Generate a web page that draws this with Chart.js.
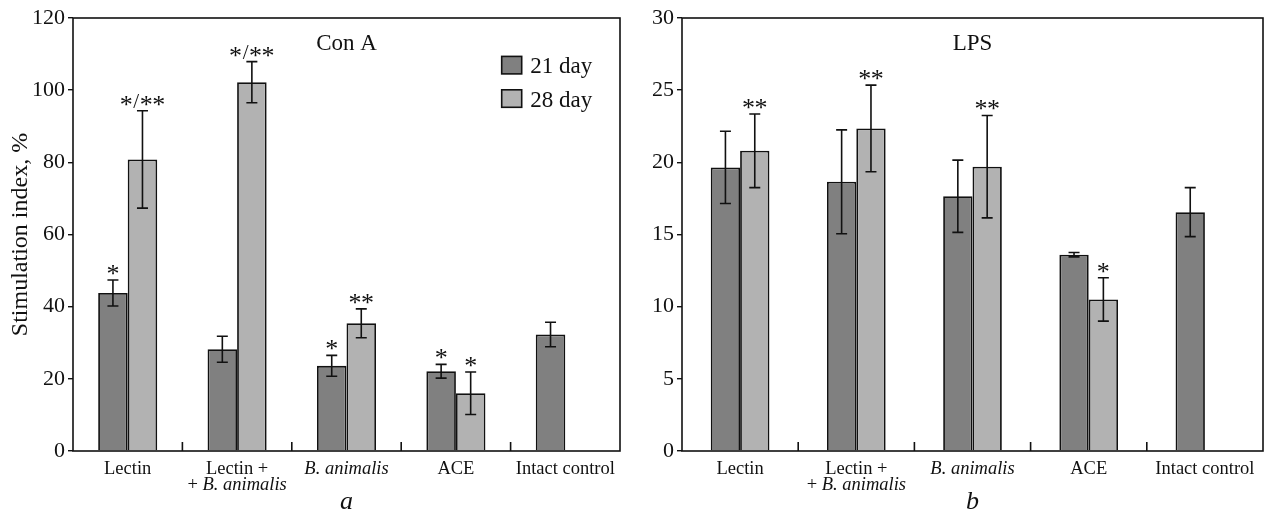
<!DOCTYPE html>
<html>
<head>
<meta charset="utf-8">
<script src="https://cdn.jsdelivr.net/npm/chart.js@4.4.1/dist/chart.umd.min.js"></script>
<style>
  html, body { margin: 0; padding: 0; background: #fff; }
  #wrap { position: relative; width: 1264px; height: 514px; overflow: hidden; }
  .panel { position: absolute; top: 0; width: 632px; height: 514px; }
  #left  { left: 0; }
  #right { left: 632px; }
</style>
</head>
<body>
<div id="wrap">
  <div class="panel" id="left"><canvas id="conA" width="632" height="514"></canvas></div>
  <div class="panel" id="right"><canvas id="lps" width="632" height="514"></canvas></div>
</div>
<script>
/* two panels: Con A (a) and LPS (b) stimulation index */

const categories  = [['Lectin'], ['Lectin +', '+ B. animalis'], ['B. animalis'], ['ACE'], ['Intact control']];
const seriesNames = ['21 day', '28 day'];

// panel a — Con A
const conA21      = [43.8, 28.2, 23.6, 22.1, 32.3];
const conA21Err   = [3.6, 3.6, 2.9, 1.9, 3.4];
const conA28      = [80.8, 102.2, 35.4, 16.0, null];
const conA28Err   = [13.5, 5.7, 4.0, 5.9, null];
const conA21Marks = ['*', '', '*', '*', ''];
const conA28Marks = ['*/**', '*/**', '**', '*', ''];
const conATicks   = [0, 20, 40, 60, 80, 100, 120];

// panel b — LPS
const lps21       = [19.65, 18.65, 17.65, 13.6, 16.55];
const lps21Err    = [2.5, 3.6, 2.5, 0.15, 1.7];
const lps28       = [20.8, 22.35, 19.7, 10.5, null];
const lps28Err    = [2.55, 3.0, 3.55, 1.5, null];
const lps21Marks  = ['', '', '', '', ''];
const lps28Marks  = ['**', '**', '**', '*', ''];
const lpsTicks    = [0, 5, 10, 15, 20, 25, 30];

const SERIF = '"Liberation Serif", "Times New Roman", serif';
const INK   = '#111';
const DARK  = '#808080';
const LIGHT = '#b2b2b2';

// draw text, putting "B. animalis" in italic
function drawMixed(ctx, text, cx, y, size) {
  const parts = text.split(/(B\. animalis)/).filter(s => s.length);
  const fontOf = p => (p === 'B. animalis' ? 'italic ' : '') + size + 'px ' + SERIF;
  let total = 0;
  parts.forEach(p => { ctx.font = fontOf(p); total += ctx.measureText(p).width; });
  let x = cx - total / 2;
  ctx.textAlign = 'left';
  parts.forEach(p => {
    ctx.font = fontOf(p);
    ctx.fillText(p, x, y);
    x += ctx.measureText(p).width;
  });
}

// significance marks: stars are set bigger than the slash, as in the print
function drawMark(ctx, mark, cx, yTop) {
  const adv = ch => (ch === '*' ? 12.5 : 7.5);
  let total = 0;
  for (const ch of mark) total += adv(ch);
  let x = cx - total / 2;
  ctx.textAlign = 'center';
  ctx.textBaseline = 'alphabetic';
  for (const ch of mark) {
    if (ch === '*') {
      ctx.font = '26px ' + SERIF;
      ctx.fillText(ch, x + adv(ch) / 2, yTop + 2);
    } else {
      ctx.font = '21px ' + SERIF;
      ctx.fillText(ch, x + adv(ch) / 2, yTop - 3);
    }
    x += adv(ch);
  }
}

/* ── error bars, marks, frame, labels ───────── */
const panelDecor = {
  id: 'panelDecor',
  afterDatasetsDraw(chart, args, opts) {
    const { ctx, scales: { y } } = chart;
    ctx.save();
    ctx.strokeStyle = INK;
    ctx.fillStyle = INK;
    ctx.lineWidth = 1.6;
    chart.data.datasets.forEach((ds, di) => {
      const meta = chart.getDatasetMeta(di);
      meta.data.forEach((bar, i) => {
        const v = ds.data[i];
        if (v == null) return;
        const e = ds.errors[i];
        const yt = y.getPixelForValue(v + e);
        const yb = y.getPixelForValue(v - e);
        const cx = bar.x;
        ctx.beginPath();
        ctx.moveTo(cx, yt); ctx.lineTo(cx, yb);
        ctx.moveTo(cx - 5.5, yt); ctx.lineTo(cx + 5.5, yt);
        ctx.moveTo(cx - 5.5, yb); ctx.lineTo(cx + 5.5, yb);
        ctx.stroke();
        if (ds.marks[i]) drawMark(ctx, ds.marks[i], cx, yt);
      });
    });
    ctx.restore();
  },
  afterDraw(chart, args, opts) {
    const { ctx, chartArea: a, scales: { x } } = chart;
    ctx.save();
    ctx.strokeStyle = INK;
    ctx.fillStyle = INK;
    ctx.lineWidth = 1.6;
    ctx.strokeRect(a.left, a.top, a.right - a.left, a.bottom - a.top);

    // inward separator ticks between groups
    ctx.beginPath();
    for (let i = 0; i < categories.length - 1; i++) {
      const sx = (x.getPixelForValue(i) + x.getPixelForValue(i + 1)) / 2;
      ctx.moveTo(sx, a.bottom); ctx.lineTo(sx, a.bottom - 9);
    }
    ctx.stroke();

    // category labels
    ctx.textBaseline = 'alphabetic';
    categories.forEach((lines, i) => {
      const cx = x.getPixelForValue(i);
      lines.forEach((ln, k) => drawMixed(ctx, ln, cx, a.bottom + 23 + k * 16, 18.5));
    });

    // panel title and letter
    const mid = (a.left + a.right) / 2;
    ctx.textAlign = 'center';
    ctx.font = '23px ' + SERIF;
    ctx.fillText(opts.title, mid, a.top + 31.5);
    ctx.font = 'italic 26px ' + SERIF;
    ctx.fillText(opts.letter, mid, a.bottom + 58);

    // y title
    if (opts.yTitle) {
      ctx.save();
      ctx.translate(27, (a.top + a.bottom) / 2);
      ctx.rotate(-Math.PI / 2);
      ctx.font = '24px ' + SERIF;
      ctx.textAlign = 'center';
      ctx.fillText(opts.yTitle, 0, 0);
      ctx.restore();
    }

    // legend
    if (opts.legend) {
      chart.data.datasets.forEach((ds, k) => {
        const bx = a.right - 118.3;
        const by = a.top + 38.4 + k * 33.4;
        ctx.fillStyle = ds.backgroundColor;
        ctx.fillRect(bx, by, 20, 17.5);
        ctx.strokeStyle = INK;
        ctx.lineWidth = 1.6;
        ctx.strokeRect(bx, by, 20, 17.5);
        ctx.fillStyle = INK;
        ctx.textAlign = 'left';
        ctx.font = '23px ' + SERIF;
        ctx.fillText(ds.label, bx + 28.5, by + 16.7);
      });
    }
    ctx.restore();
  }
};

function makePanel(id, s21, e21, m21, s28, e28, m28, ticks, yWidth, padRight, catPct, decor) {
  return new Chart(document.getElementById(id), {
    type: 'bar',
    data: {
      labels: categories,
      datasets: [
        { label: seriesNames[0], data: s21, errors: e21, marks: m21,
          backgroundColor: DARK, borderColor: INK, borderWidth: 1.8 },
        { label: seriesNames[1], data: s28, errors: e28, marks: m28,
          backgroundColor: LIGHT, borderColor: INK, borderWidth: 1.8 }
      ]
    },
    options: {
      responsive: false, animation: false, devicePixelRatio: 1,
      layout: { padding: { top: 18, right: padRight, left: 0, bottom: 0 } },
      datasets: { bar: { barPercentage: 1, categoryPercentage: catPct } },
      plugins: { legend: { display: false }, tooltip: { enabled: false }, panelDecor: decor },
      scales: {
        x: {
          grid: { display: false }, border: { display: false },
          ticks: { display: false },
          afterFit: sc => { sc.height = 63; }
        },
        y: {
          min: ticks[0], max: ticks[ticks.length - 1],
          afterFit: sc => { sc.width = yWidth; },
          border: { display: false },
          grid: { drawOnChartArea: false, drawTicks: true, tickLength: 5, color: INK, lineWidth: 1.4 },
          ticks: { stepSize: ticks[1] - ticks[0], padding: 3, color: INK, font: { family: SERIF, size: 22 } }
        }
      }
    },
    plugins: [panelDecor]
  });
}

makePanel('conA', conA21, conA21Err, conA21Marks, conA28, conA28Err, conA28Marks,
          conATicks, 73, 12, 0.54,
          { title: 'Con A', letter: 'a', yTitle: 'Stimulation index, %', legend: true });

makePanel('lps', lps21, lps21Err, lps21Marks, lps28, lps28Err, lps28Marks,
          lpsTicks, 50, 1, 0.505,
          { title: 'LPS', letter: 'b', yTitle: null, legend: false });
</script>
</body>
</html>
